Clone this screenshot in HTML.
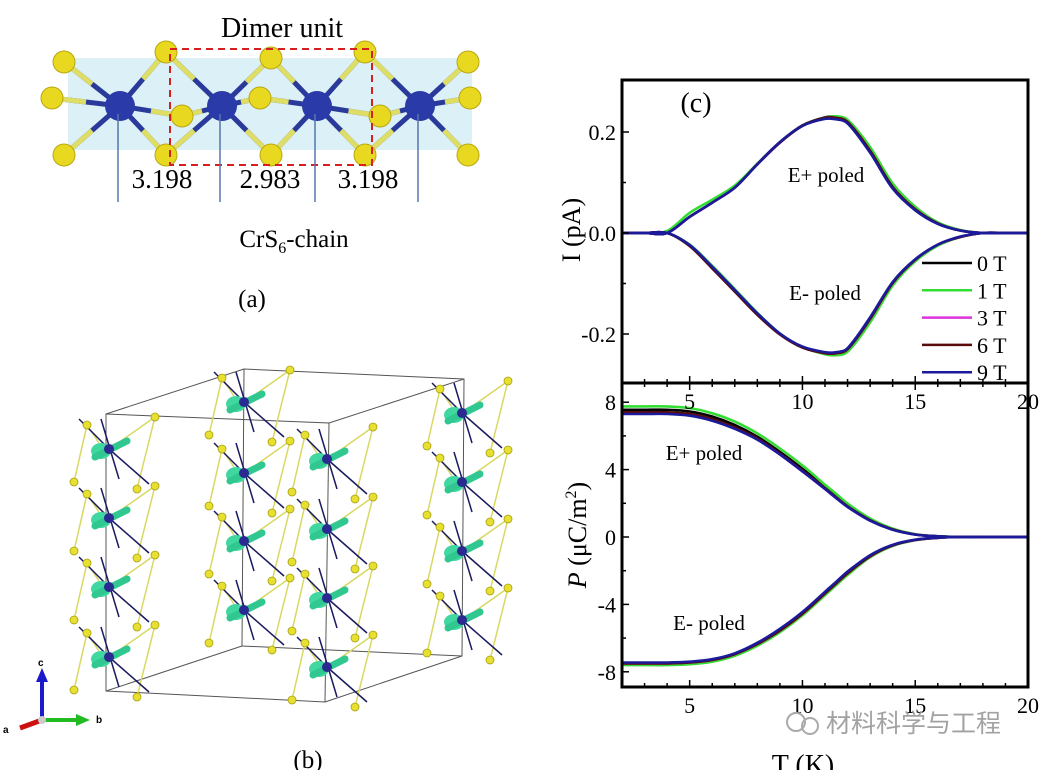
<!DOCTYPE html>
<html><head><meta charset="utf-8">
<style>
html,body{margin:0;padding:0;background:#fff;}
body{width:1040px;height:770px;position:relative;overflow:hidden;font-family:"Liberation Serif",serif;}
svg{position:absolute;left:0;top:0;}
</style></head>
<body>
<svg id="fig" width="1040" height="770" viewBox="0 0 1040 770">
  <g id="panelA">
    <rect x="68" y="58" width="404" height="92" fill="#bfe4f2" opacity="0.55"/>
    <g id="aBonds"></g>
    <rect x="170" y="49" width="202" height="116" fill="none" stroke="#d62020" stroke-width="2" stroke-dasharray="7,5"/>
    <g id="aLines" stroke="#5577aa" stroke-width="1.5"></g>
    <text x="282" y="37" font-size="28" text-anchor="middle">Dimer unit</text>
    <text x="162" y="188" font-size="27" text-anchor="middle">3.198</text>
    <text x="270" y="188" font-size="27" text-anchor="middle">2.983</text>
    <text x="368" y="188" font-size="27" text-anchor="middle">3.198</text>
    <text x="294" y="247" font-size="25" text-anchor="middle">CrS<tspan font-size="16" dy="6">6</tspan><tspan dy="-6">-chain</tspan></text>
    <text x="252" y="307" font-size="25" text-anchor="middle">(a)</text>
  </g>
  <g id="panelB">
    <g id="cell" fill="none" stroke="#555" stroke-width="1">
      <polygon points="106,414 329,423 325,702 106,691"/>
      <polygon points="244,369 464,379 462,656 242,646"/>
      <line x1="106" y1="414" x2="244" y2="369"/><line x1="329" y1="423" x2="464" y2="379"/>
      <line x1="325" y1="702" x2="462" y2="656"/><line x1="106" y1="691" x2="242" y2="646"/>
    </g>
    <g id="chains"></g>
    <g>
      <line x1="42" y1="720" x2="42" y2="680" stroke="#1a1acc" stroke-width="4"/>
      <polygon points="36,682 48,682 42,668" fill="#1a1acc"/>
      <line x1="42" y1="720" x2="78" y2="720" stroke="#22bb22" stroke-width="4"/>
      <polygon points="76,714 76,726 90,720" fill="#22bb22"/>
      <line x1="42" y1="720" x2="20" y2="728" stroke="#cc1111" stroke-width="5"/>
      <circle cx="42" cy="720" r="4" fill="#ccc"/>
      <text x="38" y="666" font-family="Liberation Sans, sans-serif" font-size="10" font-weight="bold">c</text>
      <text x="96" y="723" font-family="Liberation Sans, sans-serif" font-size="10" font-weight="bold">b</text>
      <text x="3" y="733" font-family="Liberation Sans, sans-serif" font-size="10" font-weight="bold">a</text>
    </g>
    <text x="308" y="768" font-size="25" text-anchor="middle">(b)</text>
  </g>
  <g id="panelC"></g>
  <g>
    <circle cx="796" cy="722" r="9" fill="none" stroke="#aaa" stroke-width="2"/>
    <circle cx="810" cy="726" r="8" fill="none" stroke="#aaa" stroke-width="2"/>
    <text x="826" y="732" font-family="'Liberation Sans','Noto Sans CJK SC',sans-serif" font-size="25" fill="#999" opacity="0.9">材料科学与工程</text>
  </g>
</svg>
<script>
// ---------- Chart data ----------
const temps = [2,3,4,5,6,7,8,9,10,11,11.5,12,13,14,15,16,17,18,19,20];
const fields = ['0 T','1 T','3 T','6 T','9 T'];
const colors = ['#000000','#33dd33','#dd33dd','#5a0a0a','#1a1a9a'];
const xTicks = [5,10,15,20];
const iTicks = [0.2,0.0,-0.2];
const pTicks = [8,4,0,-4,-8];
const iPlus0 = [0,0,0,0.032,0.06,0.091,0.137,0.18,0.213,0.229,0.23,0.221,0.163,0.09,0.047,0.019,0.005,0,0,0];
const iPlus1 = [0,0,0.004,0.04,0.066,0.094,0.137,0.179,0.212,0.228,0.231,0.224,0.17,0.098,0.052,0.021,0.006,0,0,0];
const iPlus3 = [0,0,0,0.032,0.06,0.09,0.136,0.179,0.212,0.227,0.227,0.219,0.162,0.09,0.047,0.019,0.005,0,0,0];
const iPlus6 = [0,0,0,0.032,0.06,0.09,0.136,0.179,0.212,0.228,0.228,0.22,0.163,0.091,0.047,0.019,0.005,0,0,0];
const iPlus9 = [0,0,0,0.032,0.06,0.09,0.136,0.18,0.212,0.226,0.225,0.217,0.159,0.088,0.045,0.018,0.005,0,0,0];
const iMinus0 = [0,0,0,-0.024,-0.067,-0.113,-0.16,-0.2,-0.226,-0.238,-0.239,-0.231,-0.172,-0.1,-0.054,-0.024,-0.008,0,0,0];
const iMinus1 = [0,0,0,-0.023,-0.065,-0.111,-0.158,-0.199,-0.226,-0.24,-0.242,-0.235,-0.177,-0.104,-0.056,-0.025,-0.008,0,0,0];
const iMinus3 = [0,0,0,-0.024,-0.067,-0.113,-0.16,-0.2,-0.226,-0.238,-0.238,-0.23,-0.17,-0.099,-0.053,-0.023,-0.008,0,0,0];
const iMinus6 = [0,0,0,-0.026,-0.07,-0.116,-0.162,-0.201,-0.227,-0.238,-0.238,-0.23,-0.17,-0.099,-0.053,-0.023,-0.008,0,0,0];
const iMinus9 = [0,0,0,-0.024,-0.067,-0.113,-0.159,-0.199,-0.225,-0.236,-0.236,-0.228,-0.167,-0.097,-0.052,-0.023,-0.007,0,0,0];
const pPlus0 = [7.55,7.55,7.55,7.45,7.15,6.65,5.95,5.05,4.05,2.95,2.4,1.85,1.0,0.45,0.15,0.04,0,0,0,0];
const pPlus1 = [7.75,7.75,7.75,7.65,7.35,6.85,6.15,5.25,4.25,3.1,2.55,1.98,1.1,0.5,0.17,0.05,0,0,0,0];
const pPlus3 = [7.35,7.35,7.35,7.25,6.95,6.45,5.8,4.9,3.9,2.85,2.3,1.8,0.98,0.44,0.15,0.04,0,0,0,0];
const pPlus6 = [7.4,7.4,7.4,7.3,7.0,6.5,5.85,4.95,3.95,2.9,2.35,1.82,1.0,0.45,0.15,0.04,0,0,0,0];
const pPlus9 = [7.3,7.3,7.3,7.2,6.9,6.42,5.78,4.9,3.9,2.85,2.3,1.78,0.97,0.43,0.14,0.04,0,0,0,0];
const pMinus0 = [-7.5,-7.5,-7.5,-7.45,-7.3,-6.95,-6.35,-5.55,-4.55,-3.35,-2.75,-2.15,-1.15,-0.5,-0.18,-0.05,0,0,0,0];
const pMinus1 = [-7.6,-7.6,-7.6,-7.55,-7.4,-7.05,-6.45,-5.65,-4.65,-3.45,-2.85,-2.25,-1.2,-0.53,-0.19,-0.05,0,0,0,0];
const pMinus3 = [-7.5,-7.5,-7.5,-7.45,-7.3,-6.95,-6.35,-5.55,-4.55,-3.35,-2.75,-2.15,-1.15,-0.5,-0.18,-0.05,0,0,0,0];
const pMinus6 = [-7.5,-7.5,-7.5,-7.45,-7.3,-6.95,-6.35,-5.55,-4.55,-3.35,-2.75,-2.15,-1.15,-0.5,-0.18,-0.05,0,0,0,0];
const pMinus9 = [-7.45,-7.45,-7.45,-7.4,-7.25,-6.9,-6.28,-5.45,-4.45,-3.25,-2.65,-2.05,-1.08,-0.46,-0.16,-0.04,0,0,0,0];
const iPlus = [iPlus0,iPlus1,iPlus3,iPlus6,iPlus9];
const iMinus = [iMinus0,iMinus1,iMinus3,iMinus6,iMinus9];
const pPlus = [pPlus0,pPlus1,pPlus3,pPlus6,pPlus9];
const pMinus = [pMinus0,pMinus1,pMinus3,pMinus6,pMinus9];

const NS='http://www.w3.org/2000/svg';
function mk(tag, attrs, parent){const e=document.createElementNS(NS,tag);for(const k in attrs)e.setAttribute(k,attrs[k]);if(parent)parent.appendChild(e);return e;}

(function(){
  const g=document.getElementById('aBonds');
  const cr=[120,222,317,420], cy=106;
  const sAtoms=[[64,62],[52,98],[64,155],[166,52],[166,155],[182,116],[271,58],[271,155],[260,98],[365,52],[365,155],[380,116],[468,62],[470,98],[468,155]];
  cr.forEach(x=>{
    sAtoms.forEach(s=>{ if(Math.abs(s[0]-x)<70){
      mk('line',{x1:x,y1:cy,x2:s[0],y2:s[1],stroke:'#2a3a9a','stroke-width':5},g);
      mk('line',{x1:(x+s[0])/2,y1:(cy+s[1])/2,x2:s[0],y2:s[1],stroke:'#dede66','stroke-width':5},g);
    }});
  });
  sAtoms.forEach(s=>{const c=mk('circle',{cx:s[0],cy:s[1],r:11,fill:'#e8d820',stroke:'#b8a810','stroke-width':1},g);
    
    });
  cr.forEach(x=>{const c=mk('circle',{cx:x,cy:cy,r:15,fill:'#2a3aa8'},g);
    
    
    mk('line',{x1:x-2,y1:cy+8,x2:x-2,y2:202},document.getElementById('aLines'));});
})();

(function(){
  const g=document.getElementById('chains');
  const chains=[[109,[449,518,587,657]],[244,[402,473,541,610]],[327,[459,529,598,667]],[462,[413,482,551,620]]];
  chains.forEach(([x,ys])=>{
    const cg=mk('g',{},g);
    
    
    ys.forEach((y)=>{
      const l=[x-22,y-24],r=[x+46,y-32],bl=[x-35,y+33],br=[x+28,y+40];
      [[l,bl],[r,br],[l,[x-10,y-6]],[r,[x+12,y-8]]].forEach(p=>mk('line',{x1:p[0][0],y1:p[0][1],x2:p[1][0],y2:p[1][1],stroke:'#d8d860','stroke-width':1.5},cg));
      [[x+40,y+35],[x-30,y-30]].forEach(e=>mk('line',{x1:x,y1:y,x2:e[0],y2:e[1],stroke:'#1a1a60','stroke-width':1.5},cg));
      mk('line',{x1:x-8,y1:y-30,x2:x+10,y2:y+30,stroke:'#1a1a60','stroke-width':1.5},cg);
      [l,r,bl,br].forEach(p=>mk('circle',{cx:p[0],cy:p[1],r:4,fill:'#e8e030',stroke:'#a8a010','stroke-width':0.8},cg));
      mk('ellipse',{cx:x-8,cy:y+2,rx:10,ry:8,fill:'#40d8a0'},cg);
      mk('line',{x1:x-14,y1:y+8,x2:x+18,y2:y-8,stroke:'#30c890','stroke-width':7,'stroke-linecap':'round'},cg);
      mk('circle',{cx:x,cy:y,r:5,fill:'#2a2a90'},cg);
    });
  });
})();

(function(){
  const g=document.getElementById('panelC');
  const L=622,R=1028,T1=80,B1=383,B2=687;
  const x=t=>L+(t-2)*(R-L)/18;
  const yI=v=>233-v*505;
  const yP=v=>537-v*16.85;
  function path(arr,yf,color,name){
    const n=temps.length;
    const px=temps.map(t=>x(t)), py=arr.map(v=>yf(v));
    const m=py.map((_,i)=>{const a=Math.max(0,i-1),b=Math.min(n-1,i+1);return (py[b]-py[a])/(px[b]-px[a]);});
    let d='M'+px[0].toFixed(1)+','+py[0].toFixed(1);
    for(let i=0;i<n-1;i++){
      const h=px[i+1]-px[i];
      d+=`C${(px[i]+h/3).toFixed(1)},${(py[i]+m[i]*h/3).toFixed(1)} ${(px[i+1]-h/3).toFixed(1)},${(py[i+1]-m[i+1]*h/3).toFixed(1)} ${px[i+1].toFixed(1)},${py[i+1].toFixed(1)}`;
    }
    const p=mk('path',{d:d,fill:'none',stroke:color,'stroke-width':2.6},g);
    
    
  }
  fields.forEach((f,k)=>{
    path(iPlus[k],yI,colors[k],'current-e-plus-'+f.replace(' ','').toLowerCase());
    path(iMinus[k],yI,colors[k],'current-e-minus-'+f.replace(' ','').toLowerCase());
    path(pPlus[k],yP,colors[k],'polarization-e-plus-'+f.replace(' ','').toLowerCase());
    path(pMinus[k],yP,colors[k],'polarization-e-minus-'+f.replace(' ','').toLowerCase());
  });
  const f1=mk('rect',{x:L,y:T1,width:R-L,height:B1-T1,fill:'none',stroke:'#000','stroke-width':3},g);
  
  
  const f2=mk('rect',{x:L,y:B1,width:R-L,height:B2-B1,fill:'none',stroke:'#000','stroke-width':3},g);
  
  
  const txt=(s,xx,yy,sz,anchor,name,extra)=>{const t=mk('text',Object.assign({x:xx,y:yy,'font-size':sz,'text-anchor':anchor,'font-family':'Liberation Serif, serif'},extra||{}),g);t.textContent=s;
    
    return t;};
  for(let t=3;t<=19;t++){const len=(t%5===0)?7:4;
    mk('line',{x1:x(t),y1:B1,x2:x(t),y2:B1-len,stroke:'#000','stroke-width':1.5},g);
    mk('line',{x1:x(t),y1:B1,x2:x(t),y2:B1+len,stroke:'#000','stroke-width':1.5},g);
    mk('line',{x1:x(t),y1:B2,x2:x(t),y2:B2-len,stroke:'#000','stroke-width':1.5},g);}
  xTicks.forEach(t=>{txt(String(t),x(t),409,22,'middle','top-x-tick-label');txt(String(t),x(t),713,22,'middle','x-tick-label');});
  iTicks.forEach(v=>{mk('line',{x1:L,y1:yI(v),x2:L+7,y2:yI(v),stroke:'#000','stroke-width':1.5},g);txt(v.toFixed(1),L-6,yI(v)+8,22,'end','i-tick-label');});
  [0.1,-0.1].forEach(v=>mk('line',{x1:L,y1:yI(v),x2:L+4,y2:yI(v),stroke:'#000','stroke-width':1.5},g));
  pTicks.forEach(v=>{mk('line',{x1:L,y1:yP(v),x2:L+7,y2:yP(v),stroke:'#000','stroke-width':1.5},g);txt(String(v),L-6,yP(v)+8,22,'end','p-tick-label');});
  [6,2,-2,-6].forEach(v=>mk('line',{x1:L,y1:yP(v),x2:L+4,y2:yP(v),stroke:'#000','stroke-width':1.5},g));
  txt('(c)',696,112,28,'middle','panel-c-label');
  txt('E+ poled',826,182,21,'middle','current-e-plus-label');
  txt('E- poled',825,300,21,'middle','current-e-minus-label');
  txt('E+ poled',704,460,21,'middle','polarization-e-plus-label');
  txt('E- poled',709,630,21,'middle','polarization-e-minus-label');
  txt('I (pA)',580,230,26,'middle','current-axis-title',{transform:'rotate(-90 580 230)'});
  const pt=txt('',586,535,26,'middle','polarization-axis-title',{transform:'rotate(-90 586 535)'});
  pt.innerHTML='<tspan font-style="italic">P</tspan> (μC/m<tspan font-size="16" dy="-10">2</tspan><tspan dy="10">)</tspan>';
  txt('T (K)',803,774,28,'middle','x-axis-title');
  fields.forEach((f,k)=>{const yy=263+k*27.3;
    const ln=mk('line',{x1:922,y1:yy,x2:972,y2:yy,stroke:colors[k],'stroke-width':2.5},g);
    
    
    txt(f,977,yy+8,22,'start','legend-entry');});
})();
</script>
</body></html>
